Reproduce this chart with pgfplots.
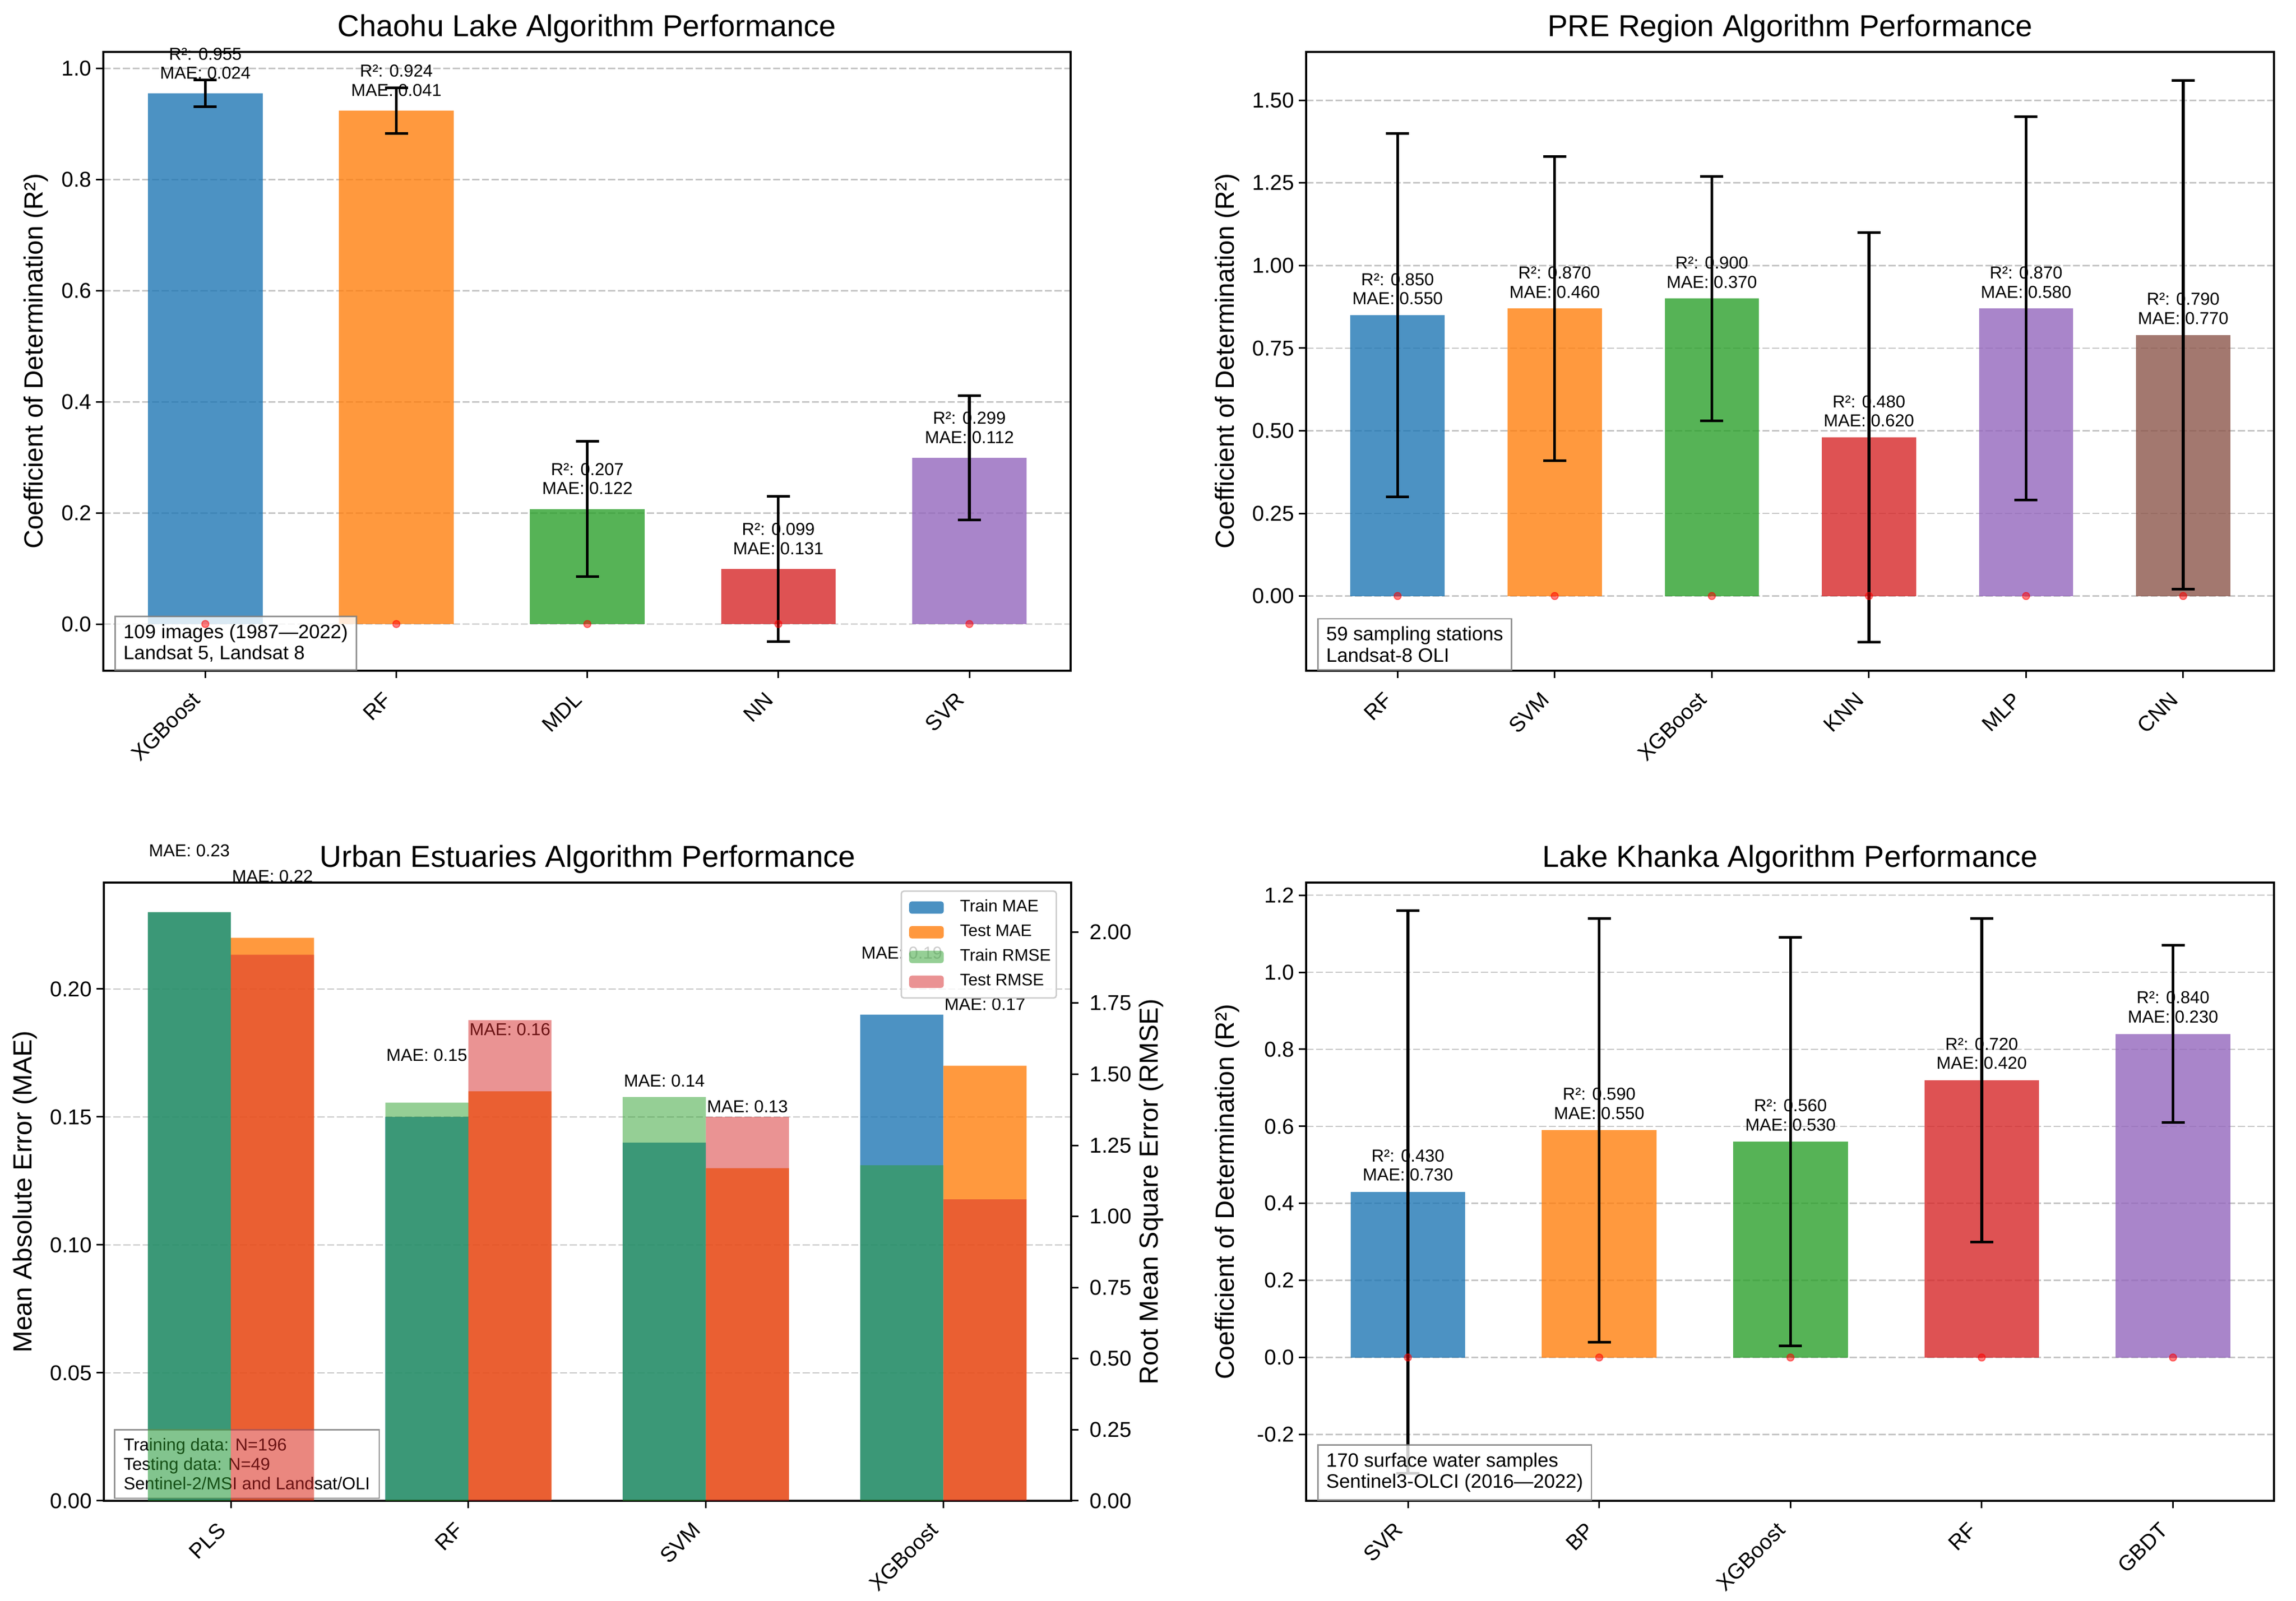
\documentclass[border=0pt]{standalone}
\usepackage{pgfplots}
\pgfplotsset{compat=1.18}
\usepackage{fontspec}
\setmainfont{Liberation Sans}
\definecolor{tb}{HTML}{1F77B4}
\definecolor{to}{HTML}{FF7F0E}
\definecolor{tg}{HTML}{2CA02C}
\definecolor{tr}{HTML}{D62728}
\definecolor{tp}{HTML}{9467BD}
\definecolor{tn}{HTML}{8C564B}
\definecolor{gridc}{HTML}{C4C4C4}
\newcommand{\lab}{\fontsize{6.6}{7.3}\selectfont}
\newcommand{\boxf}{\fontsize{7.4}{8.1}\selectfont}
\newcommand{\boxs}{\fontsize{6.6}{7.4}\selectfont}
\tikzset{
  infobox/.style={draw=gray,line width=.55pt,draw opacity=.85,fill=white,fill opacity=.8,text opacity=1,
     align=left,font=\boxf,anchor=south west,inner xsep=3.2pt,inner ysep=3pt},
}
\pgfplotsset{
  panel/.style={
    scale only axis, clip=false,
    anchor=south west,
    tick align=outside, tick pos=left,
    axis line style={line width=.75pt},
    major tick length=2.8pt,
    every tick/.style={black,line width=.6pt},
    ymajorgrids,
    grid style={dash pattern=on 2.7pt off 1pt,line width=.55pt,gridc},
    title style={font=\fontsize{11.55}{13}\selectfont,at={(axis description cs:0.5,1)},anchor=south,yshift=-2.8pt,inner sep=0pt},
    label style={font=\fontsize{10.4}{12}\selectfont},
    tick label style={font=\fontsize{8.2}{9.5}\selectfont},
    /pgf/number format/assume math mode=true,
    xticklabel style={xshift=-3.4pt,yshift=-6.8pt,rotate=45,anchor=east,inner sep=0pt},
    yticklabel style={xshift=1.8pt},
    scaled y ticks=false,
  },
  yfmt/.style={yticklabel style={/pgf/number format/fixed,/pgf/number format/fixed zerofill,/pgf/number format/precision=#1}},
  ylab/.style={every axis y label/.style={at={(axis description cs:#1,0.5)},rotate=90,anchor=center}},
  rbar/.style={ybar,bar width=0.6,bar shift=0pt,draw=none,fill=#1,fill opacity=.8,forget plot},
  ebar/.style={draw=none,mark=none,forget plot,
    error bars/.cd,y dir=both,y explicit,
    error bar style={black,line width=1.05pt},
    error mark options={rotate=90,draw=black,mark size=4.4pt,line width=1pt}},
  rdots/.style={only marks,mark=*,mark size=1.35pt,red,opacity=.5,forget plot},
}
\begin{document}
\begin{tikzpicture}
\path[use as bounding box] (0pt,0pt) rectangle (875.4pt,610.4pt);
% ------------------ Chaohu
\begin{axis}[panel,at={(39.4pt,354.6pt)},width=368.8pt,height=236pt,
  xmin=-0.534,xmax=4.53,ymin=-0.084,ymax=1.03,
  xtick={0,1,2,3,4},xticklabels={XGBoost,RF,MDL,NN,SVR},
  ytick={0,0.2,0.4,0.6,0.8,1.0},yfmt=1,
  title={Chaohu Lake Algorithm Performance},
  ylab=-0.0695,ylabel={Coefficient of Determination (R²)}]
\addplot[rbar=tb] coordinates {(0,0.955)};
\addplot[rbar=to] coordinates {(1,0.924)};
\addplot[rbar=tg] coordinates {(2,0.207)};
\addplot[rbar=tr] coordinates {(3,0.099)};
\addplot[rbar=tp] coordinates {(4,0.299)};
\addplot[ebar] coordinates {(0,0.955) +- (0,0.024) (1,0.924) +- (0,0.041) (2,0.207) +- (0,0.122) (3,0.099) +- (0,0.131) (4,0.299) +- (0,0.112)};
\addplot[rdots] coordinates {(0,0) (1,0) (2,0) (3,0) (4,0)};
\foreach \x/\r/\m in {0/0.955/0.024,1/0.924/0.041,2/0.207/0.122,3/0.099/0.131,4/0.299/0.112}{
  \edef\tmp{\noexpand\node[anchor=south,align=center,font=\noexpand\lab,inner sep=0pt] at (axis cs:\x,\r+0.025) {R²: \r\noexpand\\MAE: \m};}\tmp
}
\node[infobox] at (rel axis cs:0.0114,0) {109 images (1987—2022)\\Landsat 5, Landsat 8};
\end{axis}
% ------------------ PRE
\begin{axis}[panel,at={(498pt,354.6pt)},width=369pt,height=236pt,
  xmin=-0.582,xmax=5.578,ymin=-0.226,ymax=1.6465,
  xtick={0,1,2,3,4,5},xticklabels={RF,SVM,XGBoost,KNN,MLP,CNN},
  ytick={0,0.25,0.5,0.75,1.0,1.25,1.5},yfmt=2,
  title={PRE Region Algorithm Performance},
  ylab=-0.0813,ylabel={Coefficient of Determination (R²)}]
\addplot[rbar=tb] coordinates {(0,0.85)};
\addplot[rbar=to] coordinates {(1,0.87)};
\addplot[rbar=tg] coordinates {(2,0.90)};
\addplot[rbar=tr] coordinates {(3,0.48)};
\addplot[rbar=tp] coordinates {(4,0.87)};
\addplot[rbar=tn] coordinates {(5,0.79)};
\addplot[ebar] coordinates {(0,0.85) +- (0,0.55) (1,0.87) +- (0,0.46) (2,0.90) +- (0,0.37) (3,0.48) +- (0,0.62) (4,0.87) +- (0,0.58) (5,0.79) +- (0,0.77)};
\addplot[rdots] coordinates {(0,0) (1,0) (2,0) (3,0) (4,0) (5,0)};
\foreach \x/\r/\m in {0/0.850/0.550,1/0.870/0.460,2/0.900/0.370,3/0.480/0.620,4/0.870/0.580,5/0.790/0.770}{
  \edef\tmp{\noexpand\node[anchor=south,align=center,font=\noexpand\lab,inner sep=0pt] at (axis cs:\x,\r+0.03) {R²: \r\noexpand\\MAE: \m};}\tmp
}
\node[infobox] at (rel axis cs:0.0114,0) {59 sampling stations\\Landsat-8 OLI};
\end{axis}
% ------------------ Urban estuaries, left axis
\begin{axis}[panel,at={(39.6pt,38pt)},width=368.8pt,height=235.8pt,
  xmin=-0.535,xmax=3.538,ymin=0,ymax=0.2416,
  xtick={0,1,2,3},xticklabels={PLS,RF,SVM,XGBoost},
  ytick={0,0.05,0.10,0.15,0.20},yfmt=2,
  title={Urban Estuaries Algorithm Performance},
  ylab=-0.0815,ylabel={Mean Absolute Error (MAE)}]
\addplot[ybar,bar width=0.35,bar shift=0pt,draw=none,fill=tb,fill opacity=.8,forget plot] coordinates {(-0.175,0.23) (0.825,0.15) (1.825,0.14) (2.825,0.19)};
\addplot[ybar,bar width=0.35,bar shift=0pt,draw=none,fill=to,fill opacity=.8,forget plot] coordinates {(0.175,0.22) (1.175,0.16) (2.175,0.13) (3.175,0.17)};
\foreach \x/\m in {-0.175/0.23,0.825/0.15,1.825/0.14,2.825/0.19,0.175/0.22,1.175/0.16,2.175/0.13,3.175/0.17}{
  \edef\tmp{\noexpand\node[anchor=south,font=\noexpand\lab,inner sep=0pt] at (axis cs:\x,\m+0.0215) {MAE: \m};}\tmp
}
\node[infobox,font=\boxs,inner xsep=3.5pt,inner ysep=3.2pt] at (rel axis cs:0.0103,0.003) {Training data: N=196\\Testing data: N=49\\Sentinel-2/MSI and Landsat/OLI};
\end{axis}
% ------------------ Urban estuaries, right axis
\begin{axis}[panel,at={(39.6pt,38pt)},width=368.8pt,height=235.8pt,
  xmin=-0.535,xmax=3.538,ymin=0,ymax=2.174,
  xtick=\empty,ytick pos=right,yticklabel pos=right,ymajorgrids=false,
  ytick={0,0.25,0.5,0.75,1.0,1.25,1.5,1.75,2.0},yfmt=2,
  yticklabel style={xshift=-1pt},
  ylab=1.083,ylabel={Root Mean Square Error (RMSE)},
  legend image code/.code={\fill[#1,draw=none] (0pt,-2.35pt) rectangle (13.2pt,2.35pt);},
  legend cell align=left,
  legend style={at={(axis description cs:0.9854,0.9873)},anchor=north east,
    draw=black!20,line width=.55pt,rounded corners=1pt,fill=white,fill opacity=.8,text opacity=1,
    font=\fontsize{6.4}{7.4}\selectfont,inner xsep=3pt,inner ysep=1.2pt,row sep=-.6pt,
    /tikz/every odd column/.append style={column sep=4.2pt}}]
\addlegendimage{fill=tb,fill opacity=.8}\addlegendentry{Train MAE\hspace*{-2.9pt}}
\addlegendimage{fill=to,fill opacity=.8}\addlegendentry{Test MAE\hspace*{-2.9pt}}
\addlegendimage{fill=tg,fill opacity=.5}\addlegendentry{Train RMSE\hspace*{-2.9pt}}
\addlegendimage{fill=tr,fill opacity=.5}\addlegendentry{Test RMSE\hspace*{-2.9pt}}
\addplot[ybar,bar width=0.35,bar shift=0pt,draw=none,fill=tg,fill opacity=.5,forget plot] coordinates {(-0.175,2.07) (0.825,1.40) (1.825,1.42) (2.825,1.18)};
\addplot[ybar,bar width=0.35,bar shift=0pt,draw=none,fill=tr,fill opacity=.5,forget plot] coordinates {(0.175,1.92) (1.175,1.69) (2.175,1.35) (3.175,1.06)};
\end{axis}
% ------------------ Khanka
\begin{axis}[panel,at={(498pt,38pt)},width=369pt,height=235.8pt,
  xmin=-0.532,xmax=4.528,ymin=-0.372,ymax=1.2328,
  xtick={0,1,2,3,4},xticklabels={SVR,BP,XGBoost,RF,GBDT},
  ytick={-0.2,0,0.2,0.4,0.6,0.8,1.0,1.2},yfmt=1,
  title={Lake Khanka Algorithm Performance},
  ylab=-0.0813,ylabel={Coefficient of Determination (R²)}]
\addplot[rbar=tb] coordinates {(0,0.43)};
\addplot[rbar=to] coordinates {(1,0.59)};
\addplot[rbar=tg] coordinates {(2,0.56)};
\addplot[rbar=tr] coordinates {(3,0.72)};
\addplot[rbar=tp] coordinates {(4,0.84)};
\addplot[ebar] coordinates {(0,0.43) +- (0,0.73) (1,0.59) +- (0,0.55) (2,0.56) +- (0,0.53) (3,0.72) +- (0,0.42) (4,0.84) +- (0,0.23)};
\addplot[rdots] coordinates {(0,0) (1,0) (2,0) (3,0) (4,0)};
\foreach \x/\r/\m in {0/0.430/0.730,1/0.590/0.550,2/0.560/0.530,3/0.720/0.420,4/0.840/0.230}{
  \edef\tmp{\noexpand\node[anchor=south,align=center,font=\noexpand\lab,inner sep=0pt] at (axis cs:\x,\r+0.027) {R²: \r\noexpand\\MAE: \m};}\tmp
}
\node[infobox] at (rel axis cs:0.0114,0) {170 surface water samples\\Sentinel3-OLCI (2016—2022)};
\end{axis}
\end{tikzpicture}
\end{document}
